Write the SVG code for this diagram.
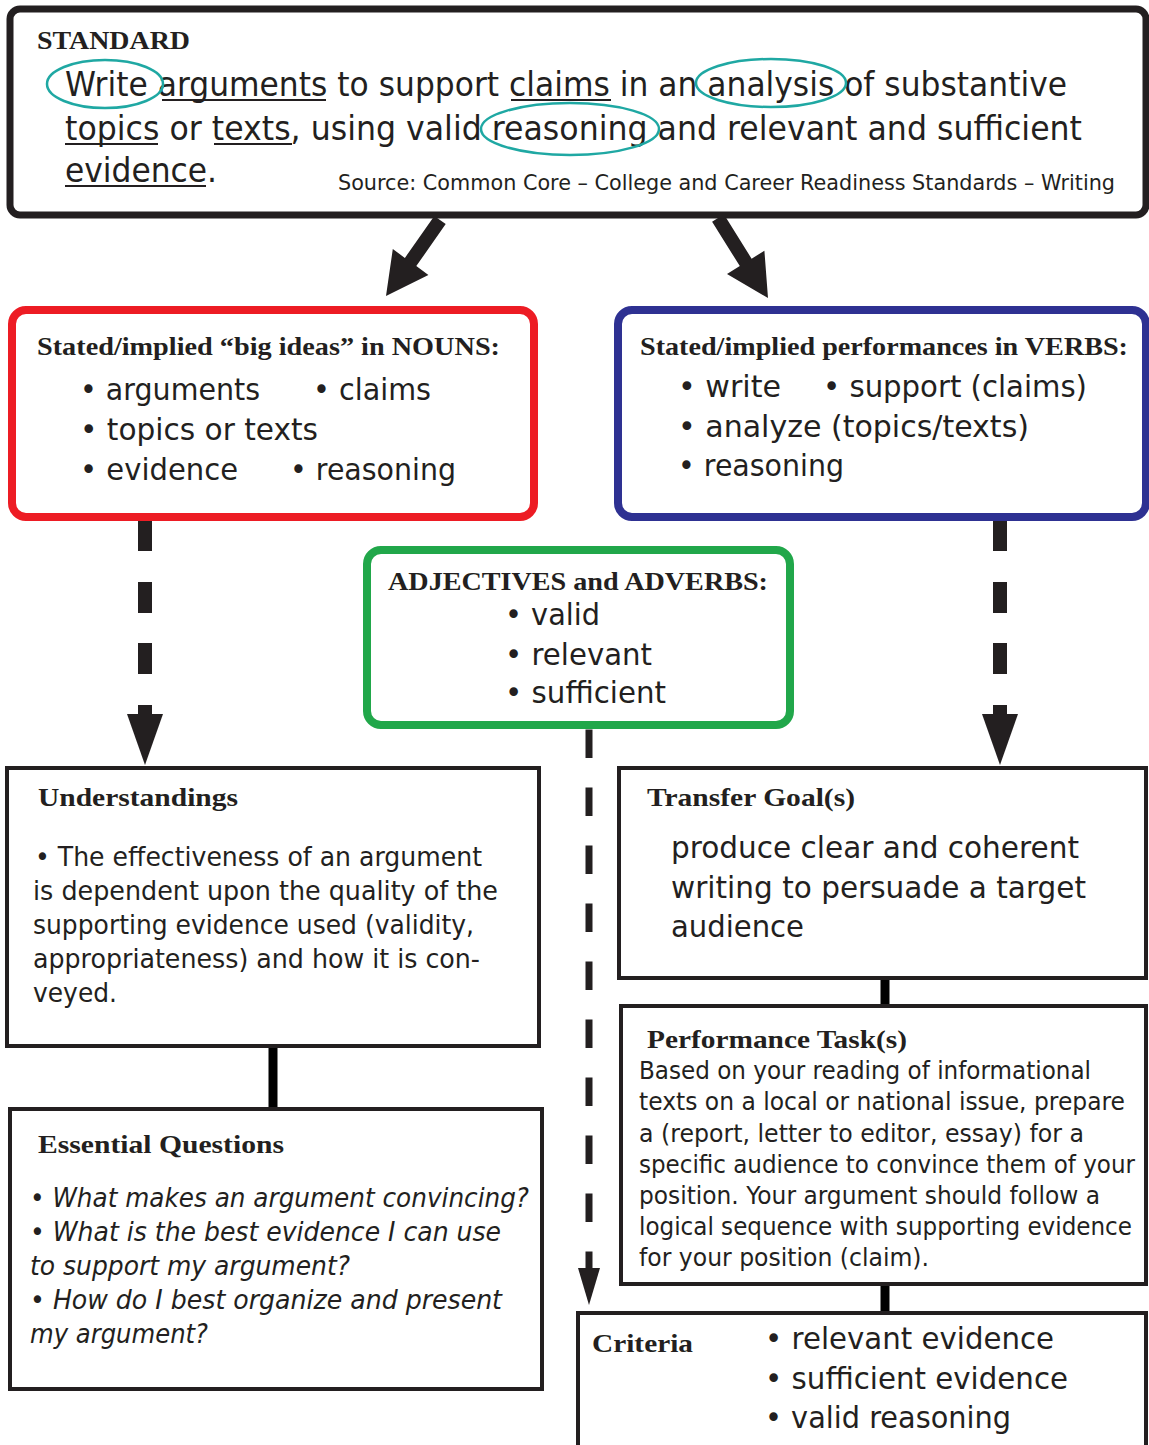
<svg xmlns="http://www.w3.org/2000/svg" width="1149" height="1445" viewBox="0 0 1149 1445">
<style>
.box{fill:#fff;stroke:#231f20}
.red{stroke:#ed1c24}
.blue{stroke:#2e3192}
.green{stroke:#21a74a}
.ttl{font-family:"Liberation Serif",serif;font-weight:bold;fill:#231f20}
.sans{font-family:"DejaVu Sans",sans-serif;fill:#231f20}
.ital{font-family:"DejaVu Sans",sans-serif;font-style:italic;fill:#231f20}
.ul{stroke:#231f20;stroke-width:2}
.oval{fill:none;stroke:#1fa8a3;stroke-width:2.5}
.dash{stroke:#231f20;stroke-width:14}
.cline{stroke:#000;stroke-width:9}
</style>
<rect width="1149" height="1445" fill="#fff"/>
<g id="connectors" fill="#231f20">
  <polygon points="445.7,224.1 434.3,215.9 404.9,257.9 392.8,249.1 386,296 428.4,274.9 416.3,266.1"/>
  <polygon points="723.9,214.3 751.6,258.7 764.4,250.7 768,298 727,274 739.8,266.1 712.1,221.7"/>
  <path class="dash" d="M145,520V551M145,582V613M145,643V674M145,705V716"/>
  <polygon points="127,714 163,714 145,765"/>
  <path class="dash" d="M1000,520V551M1000,582V613M1000,643V674M1000,705V716"/>
  <polygon points="982,714 1018,714 1000,765"/>
  <path stroke="#231f20" stroke-width="7" stroke-dasharray="28.5 29.5" d="M589,729.5V1270"/>
  <polygon points="578,1268 600,1268 589,1305"/>
  <path class="cline" d="M273,1046V1109M885,978V1006M885,1284V1313"/>
</g>
<g id="standard">
  <rect class="box" x="10" y="9" width="1136" height="206" rx="10" stroke-width="7"/>
  <text class="ttl" x="37" y="49" font-size="25" textLength="153" lengthAdjust="spacingAndGlyphs">STANDARD</text>
  <text class="sans" x="65" y="96" font-size="34" textLength="1002" lengthAdjust="spacingAndGlyphs">Write arguments to support claims in an analysis of substantive</text>
  <text class="sans" x="65" y="140" font-size="34" textLength="1017" lengthAdjust="spacingAndGlyphs">topics or texts, using valid reasoning and relevant and sufficient</text>
  <text class="sans" x="65" y="182" font-size="34" textLength="152" lengthAdjust="spacingAndGlyphs">evidence.</text>
  <text class="sans" x="338" y="190" font-size="22" textLength="777" lengthAdjust="spacingAndGlyphs">Source: Common Core – College and Career Readiness Standards – Writing</text>
  <path class="ul" d="M162,100H326M511,100H611M65,144H158M214,144H292M65,186H206"/>
  <ellipse class="oval" cx="105" cy="84" rx="58" ry="24"/>
  <ellipse class="oval" cx="771" cy="83" rx="75" ry="24"/>
  <ellipse class="oval" cx="570" cy="129" rx="89" ry="26"/>
</g>
<g id="nouns">
  <rect class="box red" x="12" y="310" width="522" height="207" rx="14" stroke-width="8"/>
  <text class="ttl" x="37" y="355" font-size="26" textLength="463" lengthAdjust="spacingAndGlyphs">Stated/implied “big ideas” in NOUNS:</text>
  <g class="sans" font-size="30">
    <text x="80" y="400" textLength="180" lengthAdjust="spacingAndGlyphs">• arguments</text>
    <text x="313" y="400" textLength="118" lengthAdjust="spacingAndGlyphs">• claims</text>
    <text x="80" y="440" textLength="238" lengthAdjust="spacingAndGlyphs">• topics or texts</text>
    <text x="80" y="480" textLength="158" lengthAdjust="spacingAndGlyphs">• evidence</text>
    <text x="290" y="480" textLength="166" lengthAdjust="spacingAndGlyphs">• reasoning</text>
  </g>
</g>
<g id="verbs">
  <rect class="box blue" x="618" y="310" width="528" height="207" rx="14" stroke-width="8"/>
  <text class="ttl" x="640" y="355" font-size="26" textLength="488" lengthAdjust="spacingAndGlyphs">Stated/implied performances in VERBS:</text>
  <g class="sans" font-size="30">
    <text x="678" y="397" textLength="103" lengthAdjust="spacingAndGlyphs">• write</text>
    <text x="823" y="397" textLength="264" lengthAdjust="spacingAndGlyphs">• support (claims)</text>
    <text x="678" y="437" textLength="351" lengthAdjust="spacingAndGlyphs">• analyze (topics/texts)</text>
    <text x="678" y="476" textLength="166" lengthAdjust="spacingAndGlyphs">• reasoning</text>
  </g>
</g>
<g id="adjectives">
  <rect class="box green" x="367" y="550" width="423" height="175" rx="14" stroke-width="8"/>
  <text class="ttl" x="388" y="590" font-size="26" textLength="380" lengthAdjust="spacingAndGlyphs">ADJECTIVES and ADVERBS:</text>
  <g class="sans" font-size="30">
    <text x="505" y="625" textLength="95" lengthAdjust="spacingAndGlyphs">• valid</text>
    <text x="505" y="665" textLength="147" lengthAdjust="spacingAndGlyphs">• relevant</text>
    <text x="505" y="703" textLength="161" lengthAdjust="spacingAndGlyphs">• sufficient</text>
  </g>
</g>
<g id="understandings">
  <rect class="box" x="7" y="768" width="532" height="278" stroke-width="4"/>
  <text class="ttl" x="38" y="806" font-size="26" textLength="200" lengthAdjust="spacingAndGlyphs">Understandings</text>
  <g class="sans" font-size="27">
    <text x="35" y="866" textLength="447" lengthAdjust="spacingAndGlyphs">• The effectiveness of an argument</text>
    <text x="33" y="900" textLength="465" lengthAdjust="spacingAndGlyphs">is dependent upon the quality of the</text>
    <text x="33" y="934" textLength="441" lengthAdjust="spacingAndGlyphs">supporting evidence used (validity,</text>
    <text x="33" y="968" textLength="447" lengthAdjust="spacingAndGlyphs">appropriateness) and how it is con-</text>
    <text x="33" y="1002" textLength="84" lengthAdjust="spacingAndGlyphs">veyed.</text>
  </g>
</g>
<g id="essential-questions">
  <rect class="box" x="10" y="1109" width="532" height="280" stroke-width="4"/>
  <text class="ttl" x="38" y="1153" font-size="26" textLength="246" lengthAdjust="spacingAndGlyphs">Essential Questions</text>
  <g class="ital" font-size="26">
    <text x="30" y="1207" textLength="499" lengthAdjust="spacingAndGlyphs">• What makes an argument convincing?</text>
    <text x="30" y="1241" textLength="471" lengthAdjust="spacingAndGlyphs">• What is the best evidence I can use</text>
    <text x="30" y="1275" textLength="320" lengthAdjust="spacingAndGlyphs">to support my argument?</text>
    <text x="30" y="1309" textLength="472" lengthAdjust="spacingAndGlyphs">• How do I best organize and present</text>
    <text x="30" y="1343" textLength="178" lengthAdjust="spacingAndGlyphs">my argument?</text>
  </g>
</g>
<g id="transfer-goals">
  <rect class="box" x="619" y="768" width="527" height="210" stroke-width="4"/>
  <text class="ttl" x="647" y="806" font-size="26" textLength="208" lengthAdjust="spacingAndGlyphs">Transfer Goal(s)</text>
  <g class="sans" font-size="31">
    <text x="671" y="858" textLength="408" lengthAdjust="spacingAndGlyphs">produce clear and coherent</text>
    <text x="671" y="898" textLength="415" lengthAdjust="spacingAndGlyphs">writing to persuade a target</text>
    <text x="671" y="937" textLength="133" lengthAdjust="spacingAndGlyphs">audience</text>
  </g>
</g>
<g id="performance-tasks">
  <rect class="box" x="621" y="1006" width="525" height="278" stroke-width="4"/>
  <text class="ttl" x="647" y="1048" font-size="26" textLength="260" lengthAdjust="spacingAndGlyphs">Performance Task(s)</text>
  <g class="sans" font-size="24">
    <text x="639" y="1079" textLength="452" lengthAdjust="spacingAndGlyphs">Based on your reading of informational</text>
    <text x="639" y="1110" textLength="486" lengthAdjust="spacingAndGlyphs">texts on a local or national issue, prepare</text>
    <text x="639" y="1142" textLength="445" lengthAdjust="spacingAndGlyphs">a (report, letter to editor, essay) for a</text>
    <text x="639" y="1173" textLength="496" lengthAdjust="spacingAndGlyphs">specific audience to convince them of your</text>
    <text x="639" y="1204" textLength="461" lengthAdjust="spacingAndGlyphs">position. Your argument should follow a</text>
    <text x="639" y="1235" textLength="493" lengthAdjust="spacingAndGlyphs">logical sequence with supporting evidence</text>
    <text x="639" y="1266" textLength="290" lengthAdjust="spacingAndGlyphs">for your position (claim).</text>
  </g>
</g>
<g id="criteria">
  <rect class="box" x="578" y="1313" width="568" height="150" stroke-width="4"/>
  <text class="ttl" x="592" y="1352" font-size="26" textLength="101" lengthAdjust="spacingAndGlyphs">Criteria</text>
  <g class="sans" font-size="31">
    <text x="765" y="1349" textLength="289" lengthAdjust="spacingAndGlyphs">• relevant evidence</text>
    <text x="765" y="1389" textLength="303" lengthAdjust="spacingAndGlyphs">• sufficient evidence</text>
    <text x="765" y="1428" textLength="246" lengthAdjust="spacingAndGlyphs">• valid reasoning</text>
  </g>
</g>
</svg>
